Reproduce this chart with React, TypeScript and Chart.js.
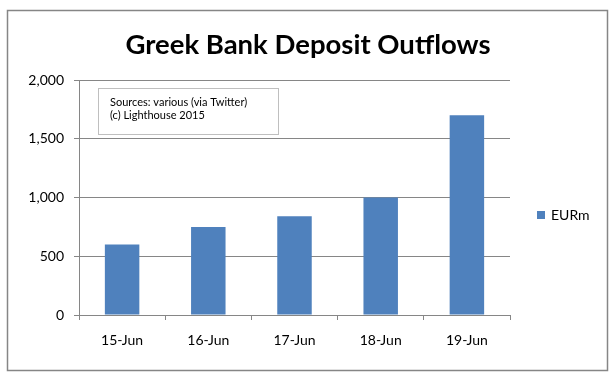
import React, { useEffect, useRef } from 'react';
import { Chart, registerables } from 'chart.js';

Chart.register(...registerables);

const chartTitle = 'Greek Bank Deposit Outflows';
const categories = ['15-Jun', '16-Jun', '17-Jun', '18-Jun', '19-Jun'];
const seriesLabel = 'EURm';
const outflows = [600, 750, 840, 1000, 1700];
const yMin = 0;
const yMax = 2000;
const yStep = 500;
const noteLines = ['Sources: various (via Twitter)', '(c) Lighthouse 2015'];

const FONT = 'Lato, "Open Sans", sans-serif';
const GREY = '#868686';
const BAR = '#4F81BD';

const decorPlugin = {
  id: 'decor',
  beforeDraw(chart: any) {
    const ctx = chart.ctx;
    ctx.save();
    ctx.fillStyle = '#ffffff';
    ctx.fillRect(0, 0, chart.width, chart.height);
    ctx.restore();
  },
  afterDraw(chart: any) {
    const ctx = chart.ctx;
    ctx.save();
    // outer border
    ctx.strokeStyle = GREY;
    ctx.lineWidth = 1.5;
    ctx.strokeRect(7.5, 10.5, 600, 360);
    // title
    ctx.fillStyle = '#000';
    ctx.font = `bold 27.5px ${FONT}`;
    ctx.textAlign = 'center';
    ctx.textBaseline = 'alphabetic';
    ctx.fillText(chartTitle, 308, 54);
    // note box
    ctx.lineWidth = 1;
    ctx.fillStyle = '#fff';
    ctx.fillRect(98, 88, 180, 46);
    ctx.strokeStyle = '#BFBFBF';
    ctx.strokeRect(98.5, 88.5, 180, 46);
    ctx.fillStyle = '#000';
    ctx.font = `11px ${FONT}`;
    ctx.textAlign = 'left';
    ctx.textBaseline = 'middle';
    noteLines.forEach((t, i) => ctx.fillText(t, 110, 102 + i * 13));
    // legend
    const ds = chart.data.datasets[0];
    ctx.fillStyle = ds.backgroundColor;
    ctx.fillRect(537, 211, 8, 8);
    ctx.fillStyle = '#000';
    ctx.font = `14px ${FONT}`;
    ctx.fillText(ds.label, 551, 215);
    ctx.restore();
  },
};

export default function App() {
  const ref = useRef<HTMLCanvasElement | null>(null);
  useEffect(() => {
    if (!ref.current) return;
    const chart = new Chart(ref.current, {
      type: 'bar',
      data: {
        labels: categories,
        datasets: [
          {
            label: seriesLabel,
            data: outflows,
            backgroundColor: BAR,
            categoryPercentage: 1,
            barPercentage: 0.4,
          },
        ],
      },
      options: {
        responsive: false,
        animation: false,
        events: [],
        layout: { padding: { left: 0, top: 80, right: 106, bottom: 0 } },
        plugins: {
          legend: { display: false },
          title: { display: false },
          tooltip: { enabled: false },
        },
        scales: {
          x: {
            grid: { offset: true, drawOnChartArea: false, drawTicks: true, tickLength: 5, color: GREY },
            border: { color: GREY },
            ticks: { font: { family: FONT, size: 14 }, color: '#000', padding: 12 },
            afterFit: (s: any) => {
              s.height = 62;
            },
          },
          y: {
            min: yMin,
            max: yMax,
            grid: { color: GREY, tickLength: 5 },
            border: { color: GREY },
            ticks: { stepSize: yStep, font: { family: FONT, size: 14 }, color: '#000', padding: 10 },
            afterFit: (s: any) => {
              s.width = 79;
            },
          },
        },
      },
      plugins: [decorPlugin],
    });
    return () => chart.destroy();
  }, []);
  return (
    <div style={{ position: 'absolute', left: 0, top: 0, width: 616, height: 377 }}>
      <canvas ref={ref} width={616} height={377} style={{ display: 'block' }} />
    </div>
  );
}
